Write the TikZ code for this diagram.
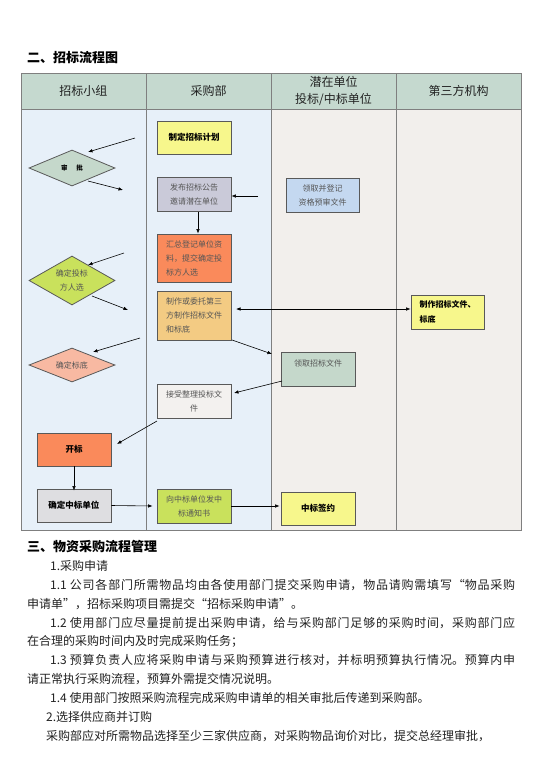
\documentclass[tikz,border=0pt]{standalone}
\usepackage{fontspec}
\setmainfont{Noto Sans CJK SC}
\usetikzlibrary{arrows.meta,shapes.geometric}
\XeTeXlinebreaklocale "zh"
\XeTeXlinebreakskip=0pt plus 3pt
\definecolor{hdr}{HTML}{C5D9CF}
\definecolor{lblue}{HTML}{E7F0F9}
\definecolor{lwarm}{HTML}{F2EFEC}
\definecolor{gridc}{HTML}{7F7F7F}
\definecolor{byellow}{HTML}{F7F78C}
\definecolor{blav}{HTML}{CACAD9}
\definecolor{bblue}{HTML}{C4D8F0}
\definecolor{borange}{HTML}{FA8A5B}
\definecolor{btan}{HTML}{F3CB83}
\definecolor{bgreen}{HTML}{C9E15C}
\definecolor{bgraygreen}{HTML}{C5D8CB}
\definecolor{bsalmon}{HTML}{F8B9A2}
\definecolor{bpale}{HTML}{F3F1EF}
\definecolor{bgray}{HTML}{DEDEE1}
\definecolor{txt}{HTML}{222222}
\definecolor{boxtxt}{HTML}{555555}
\begin{document}
\begin{tikzpicture}[x=1pt,y=-1pt,
  box/.style={draw=black!65, line width=0.8pt, inner sep=0pt, minimum width=74pt, minimum height=34pt, align=center, font=\fontsize{8}{14}\selectfont, text=boxtxt},
  boldbox/.style={box, font=\fontsize{8.5}{14}\selectfont\bfseries, text=black},
  dia/.style={diamond, aspect=2, draw=black!65, line width=0.8pt, inner sep=0pt, minimum width=86pt, align=center, font=\fontsize{8}{14}\selectfont, text=boxtxt},
  arr/.style={-{Latex[length=4.5pt,width=3.5pt]}, line width=0.6pt, black},
  darr/.style={{Latex[length=4.5pt,width=3.5pt]}-{Latex[length=4.5pt,width=3.5pt]}, line width=0.6pt, black},
  hdrtxt/.style={font=\fontsize{12}{17}\selectfont, text=txt, align=center},
  head/.style={font=\fontsize{13}{15}\selectfont\bfseries, anchor=west, inner sep=0pt, text=black},
  bodyt/.style={font=\fontsize{12}{14}\selectfont, anchor=west, inner sep=0pt, text=txt},
  fullline/.style={bodyt, text width=465pt, align=justify}
]
\useasboundingbox[fill=white] (0,0) rectangle (540,764);

% title
\node[head] (t1) at (27,58) {二、招标流程图};

% table
\fill[hdr] (21,73) rectangle (521,109);
\fill[lblue] (21,109) rectangle (271,530);
\fill[lwarm] (271,109) rectangle (521,530);
\draw[gridc, line width=0.8pt] (21,73) rectangle (521,530);
\draw[gridc, line width=0.8pt] (21,109) -- (521,109);
\foreach \xx in {146,271,396} \draw[gridc, line width=0.8pt] (\xx,73) -- (\xx,530);

\node[hdrtxt] (h1) at (83.5,91) {招标小组};
\node[hdrtxt] (h2) at (208.5,91) {采购部};
\node[hdrtxt] (h3) at (333.5,91) {潜在单位\\投标/中标单位};
\node[hdrtxt] (h4) at (458.5,91) {第三方机构};

% nodes
\node[boldbox, fill=byellow, minimum height=33pt] (plan) at (194,137.5) {制定招标计划};
\node[dia, fill=bgraygreen, minimum height=36pt, font=\fontsize{6.5}{8}\selectfont\bfseries, text=black] (d1) at (72,168) {审\hspace{9pt}批};
\node[box, fill=blav] (fabu) at (194,194.5) {发布招标公告\\邀请潜在单位};
\node[box, fill=bblue, minimum width=73pt] (lq1) at (322.5,195) {领取并登记\\资格预审文件};
\node[box, fill=borange, minimum height=48pt, align=left] (huizong) at (194,258) {汇总登记单位资\\料，提交确定投\\标方人选};
\node[dia, fill=bgreen, minimum height=49pt] (d2) at (72,280.5) {确定投标\\方人选};
\node[box, fill=btan, minimum height=49pt, align=left] (zhizuo) at (194,315.5) {制作或委托第三\\方制作招标文件\\和标底};
\node[boldbox, fill=byellow, minimum width=73pt, align=left, font=\fontsize{8}{15}\selectfont\bfseries] (third) at (447.5,312) {制作招标文件、\\标底};
\node[dia, fill=bsalmon, minimum height=34pt] (d3) at (72,365) {确定标底};
\node[box, fill=bgraygreen, label={[anchor=north, yshift=-5pt, font=\fontsize{8}{14}\selectfont, text=boxtxt]north:领取招标文件}] (lq2) at (318,369) {};
\node[box, fill=bpale] (jieshou) at (194,401) {接受整理投标文\\件};
\node[boldbox, fill=borange, minimum height=33pt] (kaibiao) at (74,449.5) {开标};
\node[boldbox, fill=bgray, minimum height=33pt] (queding) at (74,505.5) {确定中标单位};
\node[box, fill=bgreen] (tongzhi) at (194,506) {向中标单位发中\\标通知书};
\node[boldbox, fill=byellow, minimum height=33pt] (qianyue) at (318,508.5) {中标签约};

% free ends
\coordinate (c1) at (135,138);
\coordinate (c1e) at (88,152);
\coordinate (c2s) at (88,181);
\coordinate (c2) at (123,190);
\coordinate (c3) at (258,196);
\coordinate (c5) at (124,253);
\coordinate (c5e) at (88,265);
\coordinate (c6s) at (92,296);
\coordinate (c6) at (128,310);
\coordinate (c7) at (236,309);
\coordinate (c8s) at (232,340);
\coordinate (c8e) at (272,354);
\coordinate (c9) at (140,338);
\coordinate (c9e) at (93,352);
\coordinate (c10s) at (282,381);
\coordinate (c10e) at (234,393);
\coordinate (c11s) at (157,421);
\coordinate (c11e) at (117,444);

% connectors
\draw[arr] (c1) -- (c1e);
\draw[arr] (c2s) -- (c2);
\draw[arr] (c3) -- (c3 -| fabu.east);
\draw[arr] ([xshift=4pt]fabu.south) -- ([xshift=4pt]huizong.north);
\draw[arr] (c5) -- (c5e);
\draw[arr] (c6s) -- (c6);
\draw[darr] (c7) -- (c7 -| third.west);
\draw[arr] (c8s) -- (c8e);
\draw[arr] (c9) -- (c9e);
\draw[arr] (c10s) -- (c10e);
\draw[arr] (c11s) -- (c11e);
\draw[arr] (kaibiao.south) -- ([yshift=-2pt]queding.north);
\draw[arr] (queding.east) -- ([xshift=-4pt]tongzhi.west);
\draw[arr] (tongzhi.east) -- ([xshift=-1pt]qianyue.west |- tongzhi.east);

% text below
\node[head] (t2) at (27,546) {三、物资采购流程管理};
\node[bodyt] (p0) at (50,566) {1.采购申请};
\node[fullline] (p1a) at (50,585) {\parfillskip=0pt\relax 1.1 公司各部门所需物品均由各使用部门提交采购申请，物品请购需填写“物品采购\par};
\node[bodyt] (p1b) at (27,604) {申请单”，招标采购项目需提交“招标采购申请”。};
\node[fullline] (p2a) at (50,623) {\parfillskip=0pt\relax 1.2 使用部门应尽量提前提出采购申请，给与采购部门足够的采购时间，采购部门应\par};
\node[bodyt] (p2b) at (27,641) {在合理的采购时间内及时完成采购任务；};
\node[fullline] (p3a) at (50,660) {\parfillskip=0pt\relax 1.3 预算负责人应将采购申请与采购预算进行核对，并标明预算执行情况。预算内申\par};
\node[bodyt] (p3b) at (27,679) {请正常执行采购流程，预算外需提交情况说明。};
\node[bodyt] (p4) at (50,698) {1.4 使用部门按照采购流程完成采购申请单的相关审批后传递到采购部。};
\node[bodyt] (p5) at (46,717) {2.选择供应商并订购};
\node[bodyt] (p6) at (46,736) {采购部应对所需物品选择至少三家供应商，对采购物品询价对比，提交总经理审批，};
\end{tikzpicture}
\end{document}
